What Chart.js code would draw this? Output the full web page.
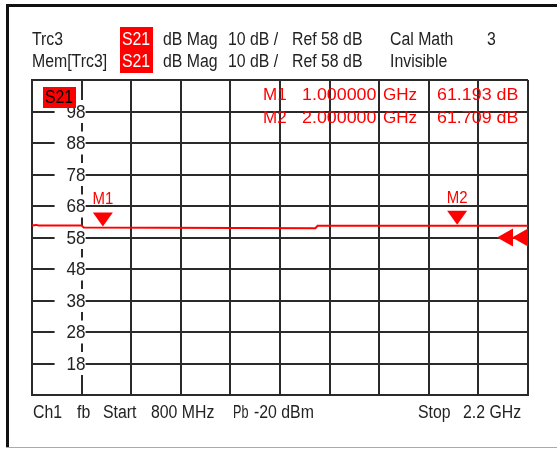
<!DOCTYPE html>
<html>
<head>
<meta charset="utf-8">
<script src="https://cdn.jsdelivr.net/npm/chart.js@4.4.1/dist/chart.umd.min.js"></script>
<style>
  body { margin: 0; background: #fff; }
  canvas { display: block; }
</style>
</head>
<body>
<canvas id="vna" width="557" height="449"></canvas>
<script>
// trace data (frequency in MHz, magnitude in dB)
const freqMHz = [800, 812, 818, 940, 946, 1600, 1606, 2200];
const traceDb = [61.8, 62.0, 61.8, 61.8, 61.2, 60.95, 61.7, 61.7];

// markers
const markerNames = ['M1', 'M2'];
const markerFreq = [1000, 2000];
const markerDb = [61.193, 61.709];
const markerFreqText = ['1.000000', '2.000000'];

// y tick labels and reference level
const yTickLabels = [98, 88, 78, 68, 58, 48, 38, 28, 18];
const refLevel = 58;

const RED = '#ff0000';
const INK = '#222';
const FONT = '"Liberation Sans", Arial, sans-serif';

// text drawn a bit narrow, like the analyzer's screen font
function txt(ctx, s, x, y, color, size, align, sx) {
    sx = sx || 0.88;
    ctx.save();
    ctx.translate(x, y);
    ctx.scale(sx, 1);
    ctx.fillStyle = color;
    ctx.font = size + 'px ' + FONT;
    ctx.textAlign = align || 'left';
    ctx.textBaseline = 'middle';
    ctx.fillText(s, 0, 0);
    ctx.restore();
}

const overlay = {
    id: 'overlay',
    // y labels sit on the first vertical division, with white boxes over the grid
    beforeDatasetsDraw(chart) {
        const ctx = chart.ctx;
        const xs = chart.scales.x, ys = chart.scales.y;
        const gx = xs.getPixelForValue(xs.ticks[1].value);
        ctx.save();
        yTickLabels.forEach(v => {
            const gy = ys.getPixelForValue(v);
            ctx.fillStyle = '#fff';
            ctx.fillRect(gx - 27, gy - 11.5, 31, 23);
            txt(ctx, String(v), gx + 4, gy + 1, INK, 19, 'right', 0.9);
        });
        ctx.restore();
    },
    afterDatasetsDraw(chart) {
        const ctx = chart.ctx;
        const xs = chart.scales.x, ys = chart.scales.y;
        const area = chart.chartArea;
        ctx.save();

        // S21 tag in the plot
        ctx.fillStyle = RED;
        ctx.fillRect(43, 87, 33, 21);
        txt(ctx, 'S21', 45, 98, '#000', 18);

        // marker triangles and labels
        markerNames.forEach((name, i) => {
            const px = xs.getPixelForValue(markerFreq[i]);
            const py = ys.getPixelForValue(markerDb[i]) - 1;
            ctx.fillStyle = RED;
            ctx.beginPath();
            ctx.moveTo(px - 10, py - 14);
            ctx.lineTo(px + 10, py - 14);
            ctx.lineTo(px, py);
            ctx.closePath();
            ctx.fill();
            txt(ctx, name, px, py - 27, RED, 17, 'center');

            // readout
            const ry = 95 + i * 23;
            txt(ctx, name, 263, ry, RED, 17, 'left', 1);
            txt(ctx, markerFreqText[i], 302, ry, RED, 17, 'left', 1.05);
            txt(ctx, 'GHz', 383, ry, RED, 17, 'left', 1);
            txt(ctx, markerDb[i].toFixed(3) + ' dB', 437, ry, RED, 17, 'left', 1.05);
        });

        // reference level arrows at right edge
        const ry = ys.getPixelForValue(refLevel);
        ctx.fillStyle = RED;
        [area.right - 31, area.right - 16].forEach(tx => {
            ctx.beginPath();
            ctx.moveTo(tx, ry);
            ctx.lineTo(tx + 16, ry - 9);
            ctx.lineTo(tx + 16, ry + 9);
            ctx.closePath();
            ctx.fill();
        });

        // header
        ctx.fillStyle = RED;
        ctx.fillRect(120, 27, 33, 46);
        const r1 = 40, r2 = 62;
        txt(ctx, 'Trc3', 32, r1, INK, 18);
        txt(ctx, 'S21', 122, r1, '#fff', 18);
        txt(ctx, 'dB Mag', 163, r1, INK, 18);
        txt(ctx, '10 dB /', 228, r1, INK, 18);
        txt(ctx, 'Ref 58 dB', 292, r1, INK, 18);
        txt(ctx, 'Cal Math', 390, r1, INK, 18);
        txt(ctx, '3', 487, r1, INK, 18);
        txt(ctx, 'Mem[Trc3]', 32, r2, INK, 18);
        txt(ctx, 'S21', 122, r2, '#fff', 18);
        txt(ctx, 'dB Mag', 163, r2, INK, 18);
        txt(ctx, '10 dB /', 228, r2, INK, 18);
        txt(ctx, 'Ref 58 dB', 292, r2, INK, 18);
        txt(ctx, 'Invisible', 390, r2, INK, 18);

        // footer
        const fy = 413;
        txt(ctx, 'Ch1', 33, fy, INK, 18);
        txt(ctx, 'fb', 77, fy, INK, 18);
        txt(ctx, 'Start', 103, fy, INK, 18);
        txt(ctx, '800 MHz', 151, fy, INK, 18);
        txt(ctx, 'Pb', 233, fy, INK, 18, 'left', 0.7);
        txt(ctx, '-20 dBm', 254, fy, INK, 18);
        txt(ctx, 'Stop', 418, fy, INK, 18);
        txt(ctx, '2.2 GHz', 463, fy, INK, 18);

        // outer frame
        ctx.fillStyle = '#111';
        ctx.fillRect(6, 4, 551, 3);
        ctx.fillRect(6, 4, 3, 444);
        ctx.fillStyle = '#aaa';
        ctx.fillRect(6, 447, 551, 1);
        ctx.restore();
    }
};

const axisStyle = {
    grid: { color: '#2a2a2a', lineWidth: 2, drawTicks: false },
    border: { color: '#2a2a2a', width: 2 }
};

new Chart(document.getElementById('vna').getContext('2d'), {
    type: 'line',
    data: {
        datasets: [{
            data: freqMHz.map((f, i) => ({ x: f, y: traceDb[i] })),
            borderColor: RED,
            borderWidth: 2,
            pointRadius: 0,
            tension: 0
        }]
    },
    options: {
        responsive: false,
        animation: false,
        layout: { padding: { left: 32, top: 80, right: 29, bottom: 54 } },
        plugins: { legend: { display: false }, tooltip: { enabled: false } },
        scales: {
            x: {
                type: 'linear', min: 800, max: 2200,
                ticks: { display: false, stepSize: 140 },
                ...axisStyle
            },
            y: {
                type: 'linear', min: 8, max: 108,
                ticks: { display: false, stepSize: 10 },
                ...axisStyle
            }
        }
    },
    plugins: [overlay]
});
</script>
</body>
</html>
